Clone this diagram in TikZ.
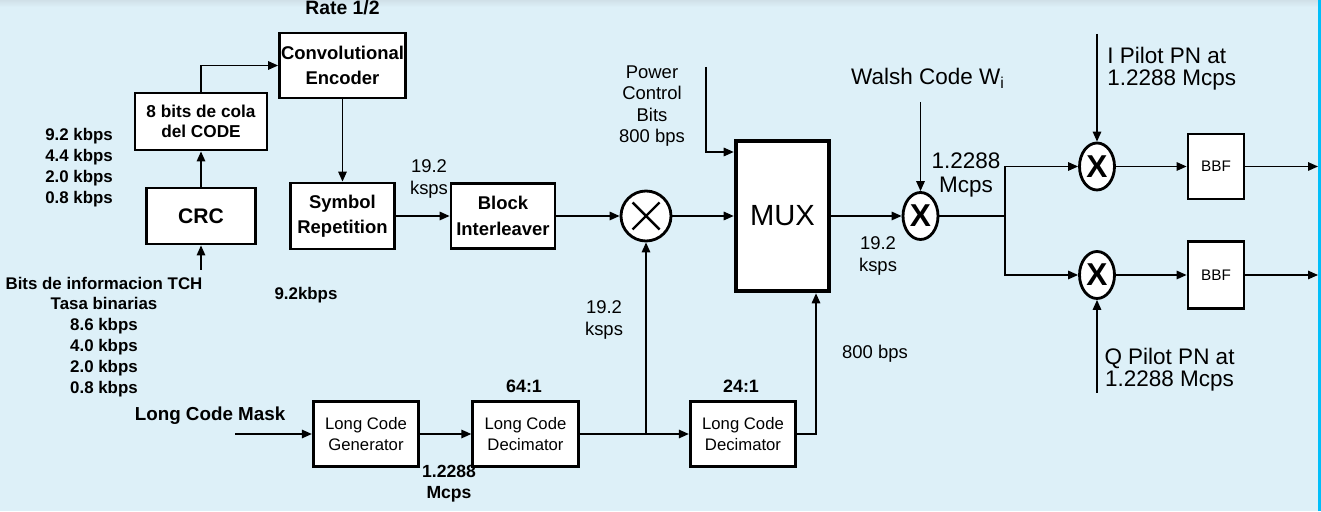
\documentclass[tikz,border=0pt]{standalone}
\usepackage{fontspec}
\setmainfont{Liberation Sans}
\usetikzlibrary{positioning,arrows.meta,shapes.geometric}
\definecolor{bgblue}{RGB}{221,240,248}
\definecolor{topgray}{RGB}{208,224,232}
\definecolor{edgecyan}{RGB}{0,190,250}

\begin{document}
\begin{tikzpicture}[
  blk/.style={draw, line width=1.6pt, fill=white, inner sep=0pt, align=center, font=\fontsize{10.5}{14.5}\selectfont\bfseries},
  lcbox/.style={blk, minimum width=2.11cm, minimum height=1.30cm, font=\fontsize{9.5}{12}\selectfont},
  mix/.style={ellipse, draw, line width=1.6pt, fill=white, inner sep=0pt, minimum width=0.70cm, minimum height=0.94cm, font=\fontsize{18}{18}\selectfont\bfseries},
  lbl/.style={inner sep=0pt, align=center, font=\fontsize{10.5}{12.3}\selectfont},
  blbl/.style={inner sep=0pt, align=center, font=\fontsize{9.6}{11.9}\selectfont\bfseries},
  big/.style={inner sep=0pt, align=left, font=\fontsize{12.8}{12.5}\selectfont},
  arr/.style={-{Triangle[length=0.2cm,width=0.17cm]}, line width=0.85pt},
  wire/.style={line width=0.85pt},
]
\useasboundingbox (0,0) rectangle (26.42,10.22);
\fill[bgblue] (0,0) rectangle (26.42,10.22);
\shade[top color=topgray, bottom color=bgblue] (0,10.08) rectangle (26.42,10.22);
\draw[edgecyan, line width=0.06cm] (26.39,0) -- (26.39,10.22);

% channel coding chain
\node[blbl, font=\fontsize{11}{13}\selectfont\bfseries] (rate) at (6.85, 10.06) {Rate 1/2};
\node[blk, minimum width=2.52cm, minimum height=1.30cm] (conv) at (6.85, 8.91) {Convolutional\\Encoder};
\node[blk, minimum width=2.64cm, minimum height=1.14cm, font=\fontsize{9.8}{11.3}\selectfont\bfseries] (tail) at (4.02, 7.79) {8 bits de cola\\del CODE};
\node[blk, minimum width=2.18cm, minimum height=1.12cm, font=\fontsize{12}{14}\selectfont\bfseries] (crc) at (4.02, 5.90) {CRC};
\node[blbl, align=left, anchor=west] (rates) at (0.90, 6.87) {9.2 kbps\\4.4 kbps\\2.0 kbps\\0.8 kbps};
\node[blbl] (info) at (2.08, 3.48) {Bits de informacion TCH\\Tasa binarias\\8.6 kbps\\4.0 kbps\\2.0 kbps\\0.8 kbps};
\coordinate (crcin) at (4.02, 4.82);
\node[blk, minimum width=2.08cm, minimum height=1.32cm] (rep) at (6.85, 5.90) {Symbol\\Repetition};
\node[blbl] (r92) at (6.12, 4.32) {9.2kbps};
\node[lbl] (s1) at (8.58, 6.64) {19.2\\ksps};
\node[blk, minimum width=2.08cm, minimum height=1.30cm] (intl) at (10.06, 5.90) {Block\\Interleaver};
\node[circle, draw, line width=1.6pt, fill=white, minimum size=1.0cm, inner sep=0pt] (m1) at (12.92, 5.90) {};
\draw[line width=1.4pt] ([shift={(-0.27,-0.27)}]m1.center) -- ([shift={(0.27,0.27)}]m1.center)
  ([shift={(-0.27,0.27)}]m1.center) -- ([shift={(0.27,-0.27)}]m1.center);

% multiplexer
\node[blk, line width=2.6pt, minimum width=1.86cm, minimum height=3.0cm, font=\fontsize{16.6}{18}\selectfont] (mux) at (15.65, 5.90) {MUX};
\node[lbl] (pcbtxt) at (13.04, 8.10) {Power\\Control\\Bits\\800 bps};
\coordinate (pcb) at (14.12, 8.88);
\node[lbl] (b800) at (17.50, 3.14) {800 bps};

% spreading
\node[mix] (mw) at (18.41, 5.90) {X};
\node[big] (walsh) at (18.56, 8.66) {Walsh Code W\textsubscript{i}};
\coordinate (win) at (18.41, 8.18);
\node[lbl] (s2) at (17.56, 5.10) {19.2\\ksps};
\node[big, align=center, font=\fontsize{12.8}{14.2}\selectfont] (mc1) at (19.32, 6.72) {1.2288\\Mcps};
\coordinate (split) at (20.10, 5.90);
\node[mix] (mi) at (21.94, 6.89) {X};
\node[mix] (mq) at (21.94, 4.72) {X};
\node[big, anchor=west] (ipn) at (22.14, 8.84) {I Pilot PN at\\1.2288 Mcps};
\node[big, align=center] (qpn) at (23.39, 2.83) {Q Pilot PN at\\1.2288 Mcps};
\coordinate (iin) at (21.94, 9.54);
\coordinate (qin) at (21.94, 2.36);
\node[blk, minimum width=1.12cm, minimum height=1.30cm, font=\fontsize{8.7}{10}\selectfont] (bbfi) at (24.32, 6.89) {BBF};
\node[blk, minimum width=1.12cm, minimum height=1.34cm, font=\fontsize{8.7}{10}\selectfont] (bbfq) at (24.32, 4.72) {BBF};
\coordinate (outi) at (26.36, 6.89);
\coordinate (outq) at (26.36, 4.72);

% long code
\node[blbl, font=\fontsize{10.7}{12}\selectfont\bfseries] (mask) at (4.20, 1.90) {Long Code Mask};
\coordinate (maskin) at (4.70, 1.54);
\node[lcbox] (gen) at (7.32, 1.54) {Long Code\\Generator};
\node[lcbox] (dec1) at (10.51, 1.54) {Long Code\\Decimator};
\node[lcbox] (dec2) at (14.86, 1.54) {Long Code\\Decimator};
\node[blbl, font=\fontsize{10.2}{12}\selectfont\bfseries] (d64) at (10.48, 2.50) {64:1};
\node[blbl, font=\fontsize{10.2}{12}\selectfont\bfseries] (d24) at (14.82, 2.50) {24:1};
\node[blbl, font=\fontsize{10}{12.3}\selectfont\bfseries] (mc2) at (8.98, 0.55) {1.2288\\Mcps};
\node[lbl] (s3) at (12.08, 3.82) {19.2\\ksps};
\coordinate (tap) at (m1 |- dec1);

% connections
\draw[arr] (crcin) -- (crc.south);
\draw[arr] (crc.north) -- (tail.south);
\draw[arr] (tail.north) |- (conv.west);
\draw[arr] (conv.south) -- (rep.north);
\draw[arr] (rep.east) -- (intl.west);
\draw[arr] (intl.east) -- (m1.west);
\draw[arr] (m1.east) -- (mux.west);
\draw[arr] (pcb) |- ([yshift=1.28cm]mux.west);
\draw[arr] (mux.east) -- (mw.west);
\draw[arr] (win) -- (mw.north);
\draw[wire] (mw.east) -- (split);
\draw[arr] (split) |- (mi.west);
\draw[arr] (split) |- (mq.west);
\draw[arr] (iin) -- (mi.north);
\draw[arr] (qin) -- (mq.south);
\draw[arr] (mi.east) -- (bbfi.west);
\draw[arr] (mq.east) -- (bbfq.west);
\draw[arr] (bbfi.east) -- (outi);
\draw[arr] (bbfq.east) -- (outq);
\draw[arr] (maskin) -- (gen.west);
\draw[arr] (gen.east) -- (dec1.west);
\draw[arr] (dec1.east) -- (dec2.west);
\draw[arr] (tap) -- (m1.south);
\draw[arr] (dec2.east) -| ([xshift=0.67cm]mux.south);
\end{tikzpicture}
\end{document}
